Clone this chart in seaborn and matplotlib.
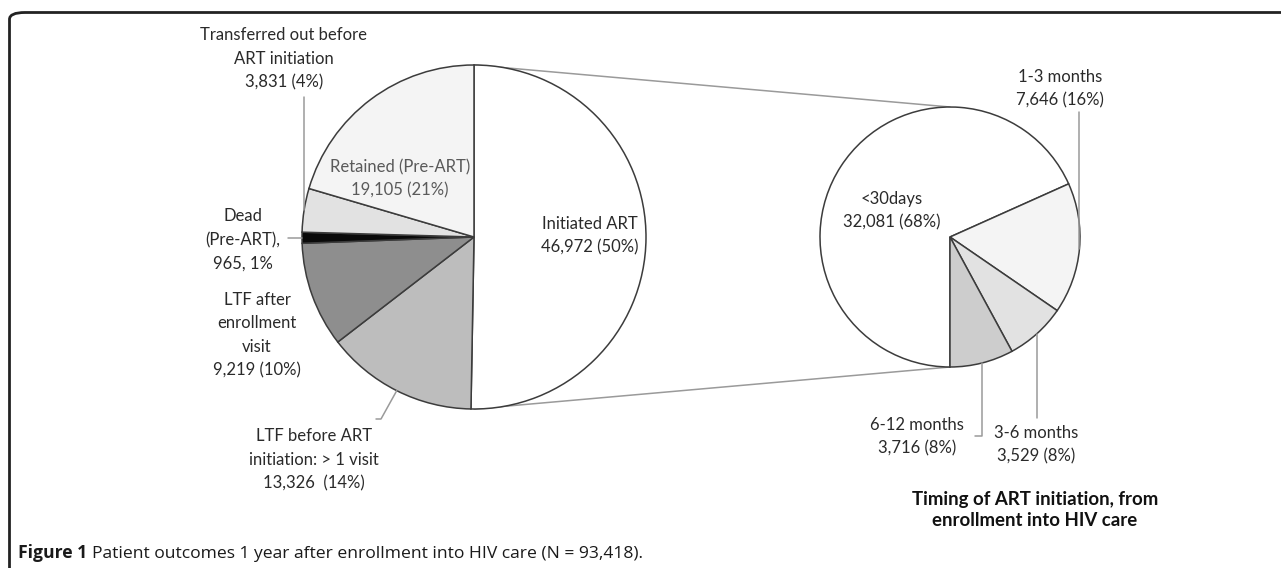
import numpy as np
import matplotlib.pyplot as plt
import seaborn as sns
from matplotlib.patches import FancyBboxPatch

W, H = 1281, 568

# left pie: patient outcomes 1 year after enrollment
outcome_names = ['Initiated ART', 'LTF before ART', 'LTF after enrollment',
                 'Dead (Pre-ART)', 'Transferred out', 'Retained (Pre-ART)']
outcome_counts = [46972, 13326, 9219, 965, 3831, 19105]
outcome_colors = ['#ffffff', '#bdbdbd', '#8e8e8e', '#0a0a0a', '#e2e2e2', '#f4f4f4']

# right pie: timing of ART initiation
timing_names = ['<30days', '1-3 months', '3-6 months', '6-12 months']
timing_counts = [32081, 7646, 3529, 3716]
timing_colors = ['#ffffff', '#f4f4f4', '#e2e2e2', '#cdcdcd']

sns.set_theme(style='white')
plt.rcParams['font.family'] = ['Lato', 'DejaVu Sans']

TXT = '#2a2a2a'
LEAD = '#9a9a9a'
EDGE = '#3c3c3c'


def px(x, y):
    # pixel position (top-left origin) to data coords
    return x, H - y


def wedge_point(wedge, center, radius):
    ang = np.deg2rad((wedge.theta1 + wedge.theta2) / 2)
    return center[0] + radius * np.cos(ang), center[1] + radius * np.sin(ang)


fig = plt.figure(figsize=(W / 100, H / 100), dpi=100)
ax = fig.add_axes([0, 0, 1, 1])

c1, r1 = px(474, 237), 172
c2, r2 = px(950, 237), 130

# connector lines between the two pies
ax.plot([c1[0], c2[0]], [c1[1] + r1, c2[1] + r2], color=LEAD, lw=1.1, zorder=0)
ax.plot([c1[0], c2[0]], [c1[1] - r1, c2[1] - r2], color=LEAD, lw=1.1, zorder=0)

w1, _ = ax.pie(outcome_counts, colors=outcome_colors, startangle=90,
               counterclock=False, center=c1, radius=r1,
               wedgeprops=dict(edgecolor=EDGE, linewidth=1.1))
w2, _ = ax.pie(timing_counts, colors=timing_colors, startangle=-90,
               counterclock=False, center=c2, radius=r2,
               wedgeprops=dict(edgecolor=EDGE, linewidth=1.1))

ax.set_xlim(0, W)
ax.set_ylim(0, H)
ax.set_aspect('equal')
ax.axis('off')

kw = dict(ha='center', va='center', fontsize=12, color=TXT, linespacing=1.58)

# left pie labels
ax.text(*px(590, 236), 'Initiated ART\n46,972 (50%)', **kw)
ax.text(*px(400, 179), 'Retained (Pre-ART)\n19,105 (21%)',
        **{**kw, 'color': '#5a5a5a'})
ax.text(*px(284, 59), 'Transferred out before\nART initiation\n3,831 (4%)', **kw)
ax.text(*px(243, 240), 'Dead\n(Pre-ART),\n965, 1%', **kw)
ax.text(*px(257, 335), 'LTF after\nenrollment\nvisit\n9,219 (10%)', **kw)
ax.text(*px(314, 460), 'LTF before ART\ninitiation: > 1 visit\n13,326  (14%)', **kw)

x, y = wedge_point(w1[4], c1, r1)
ax.plot([x, x], [H - 97, y], color=LEAD, lw=1.1)
x, y = wedge_point(w1[3], c1, r1)
ax.plot([288, x], [y, y], color=LEAD, lw=1.1)
x, y = wedge_point(w1[1], c1, r1)
ax.plot([376, 381, x], [H - 419, H - 419, y], color=LEAD, lw=1.1)

# right pie labels
ax.text(*px(892, 211), '<30days\n32,081 (68%)', **kw)
ax.text(*px(1060, 89), '1-3 months\n7,646 (16%)', **kw)
ax.text(*px(1036, 445), '3-6 months\n3,529 (8%)', **kw)
ax.text(*px(917, 437), '6-12 months\n3,716 (8%)', **kw)

x, y = wedge_point(w2[1], c2, r2)
ax.plot([x, x], [H - 112, y], color=LEAD, lw=1.1)
x, y = wedge_point(w2[2], c2, r2)
ax.plot([x, x], [H - 418, y], color=LEAD, lw=1.1)
x, y = wedge_point(w2[3], c2, r2)
ax.plot([x - 7, x, x], [H - 436, H - 436, y], color=LEAD, lw=1.1)

ax.text(*px(1035, 510), 'Timing of ART initiation, from\nenrollment into HIV care',
        ha='center', va='center', fontsize=13.4, fontweight='bold', color='#111111',
        linespacing=1.27)

# caption frame and caption
frame = FancyBboxPatch((9.5 / W, -0.2), 1.2, 1.2 - 12.5 / H,
                       boxstyle='round,pad=0,rounding_size=0.012',
                       transform=fig.transFigure, fill=False,
                       edgecolor='#222222', linewidth=2, clip_on=False)
fig.patches.append(frame)

cap = dict(ha='left', va='baseline', fontsize=12.6, color='#1a1a1a',
           family=['Open Sans', 'DejaVu Sans'])
head = ax.text(*px(18, 558), 'Figure 1', fontweight='bold', **cap)
fig.canvas.draw()
bb = head.get_window_extent()
ax.text(bb.x1 + 5, H - 558,
        'Patient outcomes 1 year after enrollment into HIV care (N = 93,418).',
        **cap)

fig.savefig('out.png', dpi=100)
